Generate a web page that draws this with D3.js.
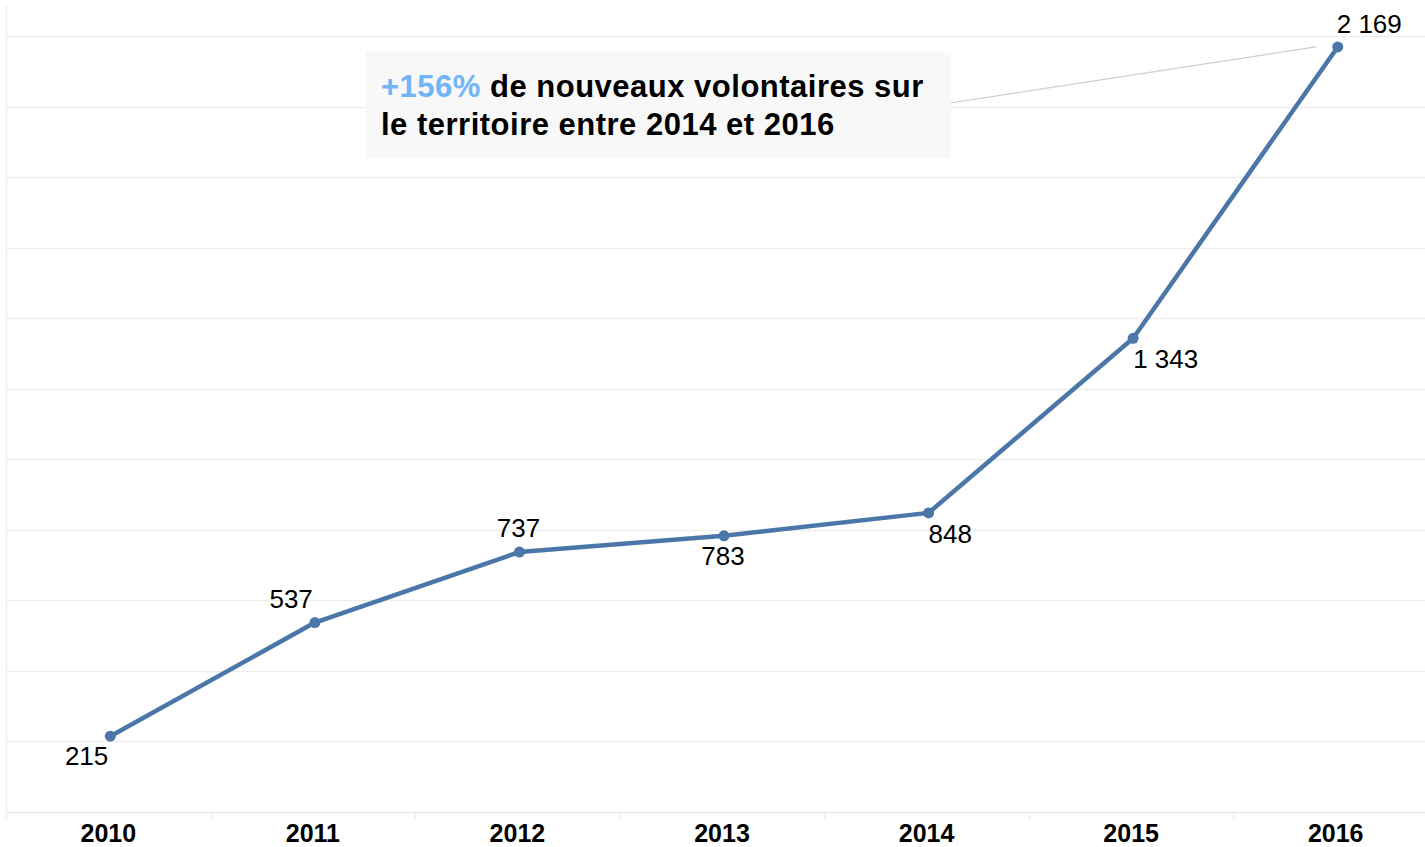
<!DOCTYPE html>
<html>
<head>
<meta charset="utf-8">
<script src="https://cdn.jsdelivr.net/npm/d3@7"></script>
<style>
  body { margin: 0; background: #fff; }
  svg { font-family: "Liberation Sans", Arial, sans-serif; display: block; }
</style>
</head>
<body>
<script>
// données
var years = ["2010", "2011", "2012", "2013", "2014", "2015", "2016"];
var volontaires = [215, 537, 737, 783, 848, 1343, 2169];
var yTicks = [0, 200, 400, 600, 800, 1000, 1200, 1400, 1600, 1800, 2000, 2200];
// où placer chaque étiquette : "bl" bas-gauche, "tl" haut-gauche, "t" haut, "b" bas, "br" bas-droite, "tr" haut-droite
var labelSide = ["bl", "tl", "t", "b", "br", "br", "tr"];

var width = 1425,
    height = 847;

var svg = d3.select("body").append("svg")
    .attr("width", width)
    .attr("height", height);

var x = d3.scaleBand()
    .domain(years)
    .range([6, 1438]);

var y = d3.scaleLinear()
    .domain([0, 2200])
    .range([812, 36]);

var fmt = function (v) {
    return d3.format(",")(v).replace(/,/g, " ");
};

// grille
svg.append("g").selectAll("line")
    .data(yTicks)
    .enter().append("line")
    .attr("x1", 6)
    .attr("x2", width)
    .attr("y1", function (d) { return Math.round(y(d)) + 0.5; })
    .attr("y2", function (d) { return Math.round(y(d)) + 0.5; })
    .attr("stroke", function (d) { return d === 0 ? "#e8e8e8" : "#eeeeee"; })
    .attr("stroke-width", 1.5);

svg.append("line")
    .attr("x1", 6.5).attr("x2", 6.5)
    .attr("y1", 6).attr("y2", 820)
    .attr("stroke", "#eeeeee")
    .attr("stroke-width", 1.5);

// axe x
var xAxis = d3.axisBottom(x).tickSize(0).tickPadding(12);
var gx = svg.append("g")
    .attr("transform", "translate(0," + 812 + ")")
    .call(xAxis);
gx.select(".domain").remove();
gx.selectAll("text")
    .attr("font-size", 25)
    .attr("font-weight", "bold")
    .attr("font-family", "Liberation Sans, Arial, sans-serif")
    .attr("fill", "#000");

// séparateurs entre années
svg.append("g").selectAll("line")
    .data(years.slice(1))
    .enter().append("line")
    .attr("x1", function (d) { return Math.round(x(d)) + 0.5; })
    .attr("x2", function (d) { return Math.round(x(d)) + 0.5; })
    .attr("y1", 812)
    .attr("y2", 820)
    .attr("stroke", "#eeeeee")
    .attr("stroke-width", 1.5);

var data = years.map(function (yr, i) {
    return { year: yr, value: volontaires[i], side: labelSide[i] };
});
var cx = function (d) { return x(d.year) + x.bandwidth() / 2 + 2; };

// annotation
var last = data[data.length - 1];
svg.append("line")
    .attr("x1", 950).attr("y1", 103)
    .attr("x2", cx(last) - 22).attr("y2", y(last.value))
    .attr("stroke", "#cccccc")
    .attr("stroke-width", 1.2);

svg.append("rect")
    .attr("x", 366).attr("y", 52)
    .attr("width", 585).attr("height", 106)
    .attr("fill", "#f8f8f8");

var note = svg.append("text")
    .attr("font-size", 31)
    .attr("font-weight", "bold")
    .attr("letter-spacing", 0.5)
    .attr("fill", "#000");
var l1 = note.append("tspan").attr("x", 381).attr("y", 97);
l1.append("tspan").attr("fill", "#6fb5f7").text("+156%");
l1.append("tspan").text(" de nouveaux volontaires sur");
note.append("tspan").attr("x", 381).attr("y", 135).text("le territoire entre 2014 et 2016");

// courbe
var line = d3.line()
    .x(cx)
    .y(function (d) { return y(d.value); });

svg.append("path")
    .datum(data)
    .attr("d", line)
    .attr("fill", "none")
    .attr("stroke", "#4a77a8")
    .attr("stroke-width", 4.5)
    .attr("stroke-linejoin", "round");

svg.append("g").selectAll("circle")
    .data(data)
    .enter().append("circle")
    .attr("cx", cx)
    .attr("cy", function (d) { return y(d.value); })
    .attr("r", 5.5)
    .attr("fill", "#4a77a8");

// étiquettes
var off = {
    bl: [-2, 29, "end"], tl: [-2, -15, "end"], t: [-1, -15, "middle"], b: [-1, 29, "middle"],
    br: [0, 30, "start"], tr: [-1, -14, "start"]
};
svg.append("g").selectAll("text")
    .data(data)
    .enter().append("text")
    .attr("x", function (d) { return cx(d) + off[d.side][0]; })
    .attr("y", function (d) { return y(d.value) + off[d.side][1]; })
    .attr("text-anchor", function (d) { return off[d.side][2]; })
    .attr("font-size", 26)
    .attr("fill", "#000")
    .text(function (d) { return fmt(d.value); });
</script>
</body>
</html>
